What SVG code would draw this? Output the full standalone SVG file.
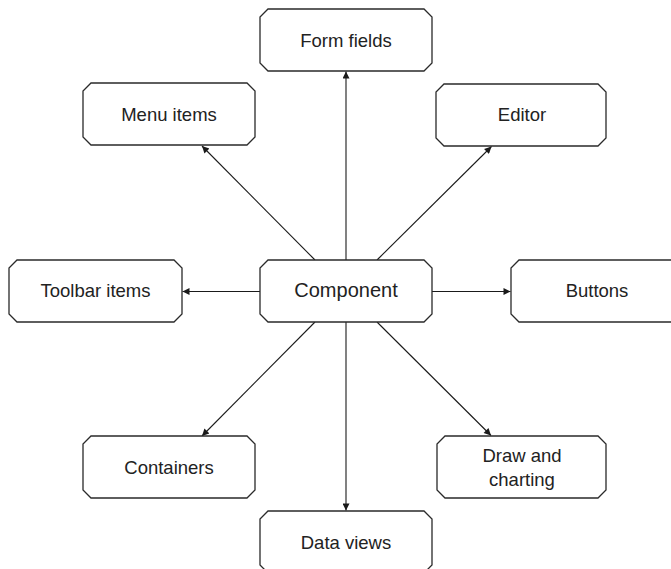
<svg xmlns="http://www.w3.org/2000/svg" width="671" height="569" viewBox="0 0 671 569">
<defs>
<marker id="arr" viewBox="0 0 10 10" refX="10" refY="5" markerWidth="9" markerHeight="7" markerUnits="userSpaceOnUse" orient="auto">
<path d="M0,0 L10,5 L0,10 z" fill="#1a1a1a"/>
</marker>
</defs>
<style>
.box{fill:#fff;stroke:#2a2a2a;stroke-width:1.3}
.lbl{font-family:"Liberation Sans",Arial,sans-serif;font-size:18.5px;fill:#222;text-anchor:middle}
.big{font-size:20px}
.con{stroke:#1a1a1a;stroke-width:1.1;fill:none;marker-end:url(#arr)}
</style>
<g id="connectors">
<line class="con" x1="346" y1="260" x2="346" y2="71.5"/>
<line class="con" x1="315" y1="260" x2="202" y2="146"/>
<line class="con" x1="377" y1="260" x2="491.5" y2="146.5"/>
<line class="con" x1="260" y1="291.5" x2="182.5" y2="291.5"/>
<line class="con" x1="432" y1="291.5" x2="510.5" y2="291.5"/>
<line class="con" x1="315" y1="322" x2="202" y2="436"/>
<line class="con" x1="377" y1="322" x2="491" y2="435.5"/>
<line class="con" x1="346" y1="322" x2="346" y2="510.5"/>
</g>
<g id="form-fields">
<path class="box" d="M268,9 H424 L432,17 V63 L424,71 H268 L260,63 V17 Z"/>
<text class="lbl" x="346" y="46.5">Form fields</text>
</g>
<g id="menu-items">
<path class="box" d="M91,83 H247 L255,91 V137 L247,145 H91 L83,137 V91 Z"/>
<text class="lbl" x="169" y="120.5">Menu items</text>
</g>
<g id="editor">
<path class="box" d="M444,84 H598 L606,92 V138 L598,146 H444 L436,138 V92 Z"/>
<text class="lbl" x="522" y="121">Editor</text>
</g>
<g id="toolbar-items">
<path class="box" d="M17,260 H174 L182,268 V314 L174,322 H17 L9,314 V268 Z"/>
<text class="lbl" x="95.5" y="297">Toolbar items</text>
</g>
<g id="component">
<path class="box" d="M268,260 H424 L432,268 V314 L424,322 H268 L260,314 V268 Z"/>
<text class="lbl big" x="346" y="297">Component</text>
</g>
<g id="buttons">
<path class="box" d="M519,260 H675 L683,268 V314 L675,322 H519 L511,314 V268 Z"/>
<text class="lbl" x="597" y="297">Buttons</text>
</g>
<g id="containers">
<path class="box" d="M91,436 H247 L255,444 V490 L247,498 H91 L83,490 V444 Z"/>
<text class="lbl" x="169" y="473.5">Containers</text>
</g>
<g id="draw-and-charting">
<path class="box" d="M445,436 H598 L606,444 V490 L598,498 H445 L437,490 V444 Z"/>
<text class="lbl" x="522" y="461.5">Draw and</text>
<text class="lbl" x="522" y="486">charting</text>
</g>
<g id="data-views">
<path class="box" d="M268,511 H424 L432,519 V565 L424,573 H268 L260,565 V519 Z"/>
<text class="lbl" x="346" y="549">Data views</text>
</g>
</svg>
